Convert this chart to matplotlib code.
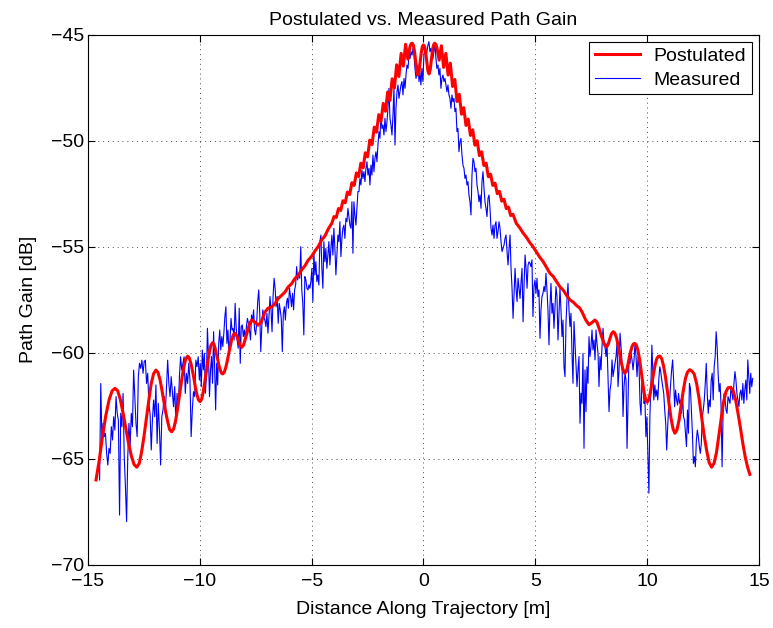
import numpy as np
import matplotlib
matplotlib.use("Agg")
import matplotlib.pyplot as plt

plt.rcParams['font.family'] = ['Liberation Sans', 'DejaVu Sans']

# Postulated path gain (red)
post_x = [-14.64, -14.50, -14.35, -14.20, -14.05, -13.92, -13.79,
          -13.67, -13.55, -13.43, -13.31, -13.19, -13.06, -12.94, -12.82,
          -12.71, -12.61, -12.50, -12.39, -12.28, -12.18, -12.07, -11.96,
          -11.87, -11.78, -11.70, -11.61, -11.52, -11.43, -11.35, -11.26,
          -11.17, -11.08, -10.99, -10.90, -10.81, -10.72, -10.63, -10.54,
          -10.47, -10.40, -10.33, -10.26, -10.20, -10.13, -10.06, -9.99,
          -9.92, -9.85, -9.78, -9.71, -9.64, -9.57, -9.50, -9.43,
          -9.37, -9.32, -9.26, -9.20, -9.15, -9.09, -9.04, -8.98,
          -8.91, -8.84, -8.77, -8.70, -8.63, -8.57, -8.50, -8.43,
          -8.36, -8.28, -8.20, -8.13, -8.05, -7.95, -7.85, -7.76, -7.68,
          -7.55, -7.39, -7.25, -7.10, -6.95, -6.80, -6.65, -6.50, -6.35,
          -6.20, -6.05, -5.90, -5.75, -5.60, -5.45, -5.30, -5.15, -5.00,
          -4.85, -4.70, -4.55, -4.40, -4.25, -4.10,
          -4.0, -3.9, -3.8, -3.7, -3.6, -3.5, -3.4, -3.3, -3.2, -3.1,
          -3.0, -2.9, -2.8, -2.7, -2.6, -2.5, -2.4, -2.3, -2.2, -2.1,
          -2.0, -1.9, -1.8, -1.7, -1.6, -1.5, -1.4, -1.3, -1.2, -1.1,
          -1.0, -0.9, -0.8, -0.7,
          -0.60, -0.55, -0.50, -0.45, -0.40, -0.35, -0.30, -0.25, -0.20,
          -0.15, -0.10, -0.05, 0.00, 0.05, 0.10, 0.15, 0.20, 0.25, 0.30,
          0.35, 0.40, 0.45, 0.50, 0.55, 0.60,
          0.7, 0.8, 0.9, 1.0, 1.1, 1.2, 1.3, 1.4, 1.5, 1.6, 1.7, 1.8, 1.9,
          2.0, 2.1, 2.2, 2.3, 2.4, 2.5, 2.6, 2.7, 2.8, 2.9, 3.0, 3.1, 3.2,
          3.3, 3.4, 3.5, 3.6, 3.7, 3.8, 3.9, 4.0,
          4.15, 4.30, 4.45, 4.60, 4.75, 4.90, 5.05, 5.20, 5.35, 5.50, 5.65,
          5.80, 5.95, 6.10, 6.25, 6.40, 6.55, 6.70, 6.85, 6.99, 7.10, 7.25,
          7.40, 7.53, 7.66,
          7.75, 7.85, 7.95, 8.05, 8.12, 8.19, 8.26, 8.33, 8.40, 8.48,
          8.55, 8.63, 8.70, 8.77, 8.84, 8.92, 9.00, 9.07, 9.13, 9.19,
          9.26, 9.32, 9.38, 9.45, 9.52, 9.59, 9.66, 9.73, 9.80, 9.87,
          9.94, 10.00, 10.07, 10.14, 10.21, 10.29, 10.36, 10.43, 10.50,
          10.57, 10.65, 10.73, 10.82, 10.90, 10.99, 11.07, 11.16, 11.24,
          11.33, 11.43, 11.52, 11.62, 11.71, 11.80, 11.90, 11.99,
          12.10, 12.21, 12.32, 12.43, 12.54, 12.66, 12.77, 12.88,
          12.99, 13.10, 13.20, 13.31, 13.41, 13.52, 13.62, 13.73,
          13.84, 13.95, 14.06, 14.17, 14.28, 14.38, 14.49, 14.59]
post_y = [-66.00, -65.10, -63.95, -62.95, -62.20, -61.80, -61.68,
          -61.80, -62.22, -62.85, -63.54, -64.25, -64.87, -65.27, -65.40,
          -65.23, -64.73, -63.98, -63.11, -62.25, -61.50, -61.00, -60.82,
          -60.93, -61.27, -61.72, -62.28, -62.83, -63.28, -63.62, -63.73,
          -63.60, -63.19, -62.61, -61.94, -61.28, -60.70, -60.30, -60.16,
          -60.25, -60.50, -60.84, -61.24, -61.62, -61.97, -62.22, -62.31,
          -62.20, -61.87, -61.40, -60.90, -60.40, -59.95, -59.65, -59.53,
          -59.59, -59.78, -60.05, -60.32, -60.58, -60.80, -60.95, -61.00,
          -60.93, -60.70, -60.38, -60.00, -59.65, -59.35, -59.15, -59.09,
          -59.18, -59.42, -59.65, -59.75, -59.65, -59.30, -58.90, -58.60, -58.46,
          -58.55, -58.70, -58.55, -58.10, -57.90, -57.85, -57.70, -57.45, -57.30,
          -57.15, -56.90, -56.75, -56.50, -56.35, -56.10, -55.90, -55.63, -55.45,
          -55.20, -54.98, -54.68, -54.48, -54.15, -53.90,
          -53.58, -53.62, -53.20, -53.29, -52.83, -52.93, -52.42, -52.54, -51.98, -52.11,
          -51.52, -51.69, -51.06, -51.28, -50.57, -50.76, -49.97, -50.18, -49.36, -49.60,
          -48.77, -49.09, -48.24, -48.61, -47.70, -48.10, -47.08, -47.51, -46.42, -46.97,
          -45.88, -46.48, -45.45, -46.15,
          -45.55, -45.42, -45.40, -45.50, -45.80, -46.25, -46.70, -46.90, -46.75,
          -46.30, -45.85, -45.55, -45.48, -45.55, -45.85, -46.30, -46.72, -46.85, -46.65,
          -46.20, -45.75, -45.48, -45.40, -45.45, -45.60,
          -46.20, -45.52, -46.54, -45.88, -46.90, -46.34, -47.44, -47.11, -48.15, -47.81,
          -48.75, -48.44, -49.28, -48.98, -49.75, -49.49, -50.21, -50.00, -50.70, -50.52,
          -51.17, -51.06, -51.70, -51.58, -52.11, -52.00, -52.50, -52.39, -52.85, -52.76,
          -53.20, -53.13, -53.53, -53.47,
          -53.90, -54.10, -54.35, -54.55, -54.80, -55.00, -55.25, -55.50, -55.70, -55.98, -56.25,
          -56.40, -56.65, -56.89, -57.05, -57.30, -57.51, -57.62, -57.78, -57.90, -58.10, -58.45,
          -58.68, -58.58, -58.46,
          -58.55, -58.85, -59.20, -59.50, -59.68, -59.72, -59.60, -59.35, -59.12, -59.01,
          -59.07, -59.30, -59.65, -60.05, -60.45, -60.80, -60.97, -60.88, -60.62, -60.28,
          -59.95, -59.72, -59.59, -59.56, -59.65, -59.90, -60.32, -60.85, -61.42, -61.92,
          -62.25, -62.34, -62.22, -61.90, -61.45, -60.95, -60.55, -60.28, -60.17,
          -60.16, -60.28, -60.62, -61.15, -61.80, -62.50, -63.12, -63.60, -63.80,
          -63.65, -63.15, -62.45, -61.75, -61.22, -60.92, -60.80, -60.86,
          -61.00, -61.45, -62.15, -63.00, -63.85, -64.62, -65.18, -65.40,
          -65.22, -64.70, -63.95, -63.10, -62.35, -61.85, -61.65, -61.63,
          -61.78, -62.20, -62.85, -63.55, -64.30, -64.90, -65.40, -65.74]

# Measured path gain (blue) in six stretches
# each stretch: (first x, last x, samples evenly spaced along the track)
meas_seg1 = (-14.48, -10.02, [
    -66.00, -61.45, -64.12, -63.33, -63.96, -63.80, -64.75, -65.30, -64.51, -64.75,
    -63.49, -64.12, -63.02, -63.65, -62.07, -62.86, -63.18, -67.66, -62.86, -63.49,
    -61.92, -64.90, -66.32, -67.97, -64.90, -63.33, -64.43, -62.86, -63.49, -60.82,
    -62.07, -63.33, -63.96, -61.13, -60.50, -60.74, -60.35, -60.97, -60.42, -60.35,
    -61.45, -60.97, -62.47, -62.86, -64.59, -63.18, -62.23, -63.02, -61.52, -64.28,
    -62.39, -63.65, -65.30, -63.02, -62.70, -62.07, -62.86, -61.60, -60.35, -61.45,
    -62.07, -61.13, -61.84, -62.55, -61.60, -63.33, -61.92, -62.70, -61.13, -60.19,
    -60.82, -60.50, -60.19, -61.92, -60.97, -61.45, -60.50, -61.29, -63.96, -62.70,
    -61.84, -62.07, -60.35, -60.66, -60.19, -61.29])
meas_seg2 = (-9.98, -5.12, [
    -60.50, -61.60, -59.87, -60.81, -60.03, -61.91, -61.13, -58.85, -60.18, -62.07,
    -60.81, -60.18, -61.44, -59.01, -60.66, -62.70, -60.50, -61.52, -59.56, -58.93,
    -59.87, -59.24, -59.71, -59.08, -58.30, -57.83, -59.56, -58.93, -60.03, -59.40,
    -58.38, -58.93, -58.85, -59.40, -57.67, -58.77, -59.40, -59.79, -57.90, -60.50,
    -58.77, -58.69, -59.24, -58.93, -59.40, -58.77, -58.38, -58.61, -58.93, -59.40,
    -58.22, -58.53, -57.98, -58.93, -59.16, -58.61, -57.59, -57.04, -58.14, -59.95,
    -58.77, -57.98, -58.30, -58.46, -58.77, -58.14, -59.08, -58.30, -57.35, -57.98,
    -59.01, -57.35, -56.49, -56.96, -57.83, -57.35, -58.61, -57.67, -57.98, -58.38,
    -59.95, -58.14, -57.83, -58.46, -57.67, -57.43, -57.90, -56.96, -57.35, -57.83,
    -57.20, -57.98, -57.04, -56.80, -55.94, -56.57, -56.25, -56.49, -55.00, -57.04,
    -57.67, -59.16, -56.41, -56.57, -56.96, -57.04, -56.80])
meas_seg3 = (-5.08, -0.20, [
    -56.96, -56.65, -56.02, -57.59, -55.23, -56.33, -55.71, -56.65, -56.33, -56.81,
    -54.76, -54.45, -56.02, -56.96, -54.76, -55.71, -55.08, -56.02, -55.39, -54.76,
    -55.86, -55.08, -54.45, -55.39, -54.13, -55.08, -56.33, -55.39, -54.45, -54.76,
    -53.82, -55.47, -54.61, -54.13, -53.98, -54.61, -53.66, -53.82, -53.19, -53.58,
    -53.98, -54.13, -52.88, -55.31, -52.88, -53.50, -53.98, -53.19, -52.40, -52.40,
    -51.78, -52.09, -51.38, -51.78, -51.46, -51.93, -51.30, -50.99, -51.62, -51.30,
    -52.09, -51.15, -51.62, -50.67, -51.46, -50.83, -50.52, -50.99, -50.20, -49.57,
    -49.89, -48.79, -49.42, -49.26, -49.73, -48.94, -49.57, -49.10, -48.47, -47.53,
    -48.94, -49.26, -49.73, -48.79, -47.53, -50.20, -48.47, -47.69, -47.37, -48.00,
    -47.69, -47.37, -47.21, -47.84, -47.06, -47.53, -46.90, -46.43, -46.59, -45.96,
    -46.12, -45.80, -45.96, -45.64, -45.96, -46.59, -47.06, -46.74, -46.43, -47.21])
meas_seg4 = (-0.16, 4.72, [
    -46.74, -47.37, -46.59, -47.21, -45.96, -45.64, -46.12, -45.80, -45.49, -45.33,
    -45.80, -45.64, -45.96, -46.12, -45.80, -45.41, -46.12, -46.59, -46.43, -46.90,
    -46.59, -47.53, -47.06, -46.90, -47.21, -47.06, -47.37, -47.69, -47.37, -47.84,
    -48.00, -48.47, -47.84, -48.16, -48.00, -48.63, -48.47, -49.57, -49.42, -50.52,
    -50.05, -49.89, -50.67, -51.15, -51.30, -51.78, -51.62, -52.09, -51.93, -52.56,
    -52.88, -53.50, -51.62, -50.83, -50.99, -51.46, -51.30, -52.09, -52.40, -52.88,
    -52.56, -53.19, -51.93, -51.46, -52.25, -52.88, -53.19, -53.58, -52.72, -52.56,
    -53.19, -54.13, -54.45, -53.98, -54.61, -53.98, -53.82, -54.61, -54.29, -53.82,
    -54.13, -54.76, -55.23, -55.08, -54.92, -54.61, -54.45, -55.23, -55.86, -55.08,
    -54.45, -56.02, -56.96, -58.38, -57.28, -56.02, -56.96, -57.59, -56.49, -56.96,
    -57.44, -56.65, -56.02, -58.54, -56.81, -55.39, -56.02, -56.96, -55.86, -55.71])
meas_seg5 = (4.76, 9.86, [
    -55.78, -55.94, -55.62, -58.30, -56.88, -56.57, -57.20, -56.49, -57.35, -57.04,
    -59.32, -57.98, -57.35, -57.20, -56.88, -57.12, -56.25, -57.04, -57.98, -59.63,
    -57.83, -56.73, -58.14, -57.67, -58.85, -57.83, -56.88, -57.35, -59.40, -58.14,
    -56.96, -57.98, -59.24, -58.46, -60.66, -61.13, -58.61, -57.51, -56.73, -57.98,
    -58.77, -58.14, -60.03, -61.44, -58.53, -59.56, -60.50, -61.60, -60.81, -60.18,
    -63.33, -61.91, -62.39, -60.03, -64.51, -60.81, -62.78, -60.66, -61.44, -59.24,
    -60.18, -59.71, -58.93, -59.87, -59.40, -60.34, -58.93, -59.56, -60.03, -61.60,
    -60.18, -60.81, -59.71, -58.85, -59.56, -59.71, -60.18, -59.56, -61.13, -62.78,
    -61.76, -61.44, -60.34, -61.13, -60.81, -60.50, -60.18, -59.56, -61.60, -60.81,
    -59.08, -59.71, -60.50, -63.01, -61.60, -60.97, -61.29, -64.51, -62.39, -60.18,
    -60.50, -60.03, -60.34, -60.81, -60.34, -59.56, -60.18, -61.13, -60.18, -60.66,
    -62.39, -62.94, -61.13, -61.60, -62.39])
meas_seg6 = (9.90, 14.72, [
    -62.23, -63.96, -63.02, -64.90, -66.63, -63.02, -61.60, -59.64, -60.97, -62.23,
    -61.52, -62.07, -61.76, -62.23, -61.29, -60.66, -60.89, -61.29, -61.60, -61.92,
    -62.70, -63.33, -64.59, -63.49, -62.55, -62.23, -61.45, -60.82, -60.34, -61.29,
    -62.55, -61.76, -62.23, -62.47, -61.92, -62.39, -62.23, -62.86, -61.92, -63.02,
    -63.17, -63.80, -64.43, -62.70, -63.80, -61.45, -61.68, -62.70, -63.80, -65.22,
    -64.90, -65.38, -64.12, -63.65, -63.96, -64.43, -64.75, -64.28, -63.02, -62.70,
    -62.23, -61.45, -60.50, -61.92, -62.86, -62.23, -62.55, -61.29, -60.97, -62.23,
    -60.66, -60.19, -59.01, -59.72, -60.97, -61.84, -61.45, -62.55, -65.38, -62.86,
    -61.92, -62.23, -62.70, -62.86, -62.07, -62.23, -62.39, -61.60, -61.92, -62.23,
    -61.45, -60.89, -61.29, -61.92, -62.23, -62.55, -61.92, -61.76, -62.23, -61.45,
    -62.39, -61.76, -61.29, -62.23, -60.34, -61.13, -61.92, -60.97, -61.60, -61.21])

meas_x, meas_y = [], []
for x0, x1, vals in [meas_seg1, meas_seg2, meas_seg3, meas_seg4, meas_seg5, meas_seg6]:
    meas_x.extend(np.linspace(x0, x1, len(vals)))
    meas_y.extend(vals)

fig = plt.figure(figsize=(7.73, 6.28), dpi=100)
ax = fig.add_axes([0.1138, 0.1008, 0.8681, 0.8439])

l_meas, = ax.plot(meas_x, meas_y, color='blue', lw=0.8, label='Measured')
l_post, = ax.plot(post_x, post_y, color='red', lw=2.2, label='Postulated')

ax.set_xlim(-15, 15)
ax.set_ylim(-70, -45)
ax.set_xticks(range(-15, 16, 5))
ax.set_yticks(range(-70, -44, 5))
ax.grid(True, linestyle=(0, (1, 4)), color='black', linewidth=0.7, alpha=0.7)
ax.tick_params(direction='in', top=True, right=True, length=5, labelsize=14)
ax.tick_params(axis='x', pad=6)
ax.tick_params(axis='y', pad=3)
for s in ax.spines.values():
    s.set_linewidth(0.8)

ax.set_title("Postulated vs. Measured Path Gain", fontsize=14, pad=7)
ax.set_xlabel("Distance Along Trajectory [m]", fontsize=14, labelpad=8)
ax.set_ylabel("Path Gain [dB]", fontsize=14, labelpad=10)

leg = ax.legend(handles=[l_post, l_meas], loc='upper right', fontsize=14,
                fancybox=False, framealpha=1, edgecolor='black',
                borderaxespad=0.36, borderpad=0.3, labelspacing=0.3,
                handlelength=2.3, handletextpad=0.7)
leg.get_frame().set_linewidth(0.8)

fig.savefig("out.png", dpi=100)
